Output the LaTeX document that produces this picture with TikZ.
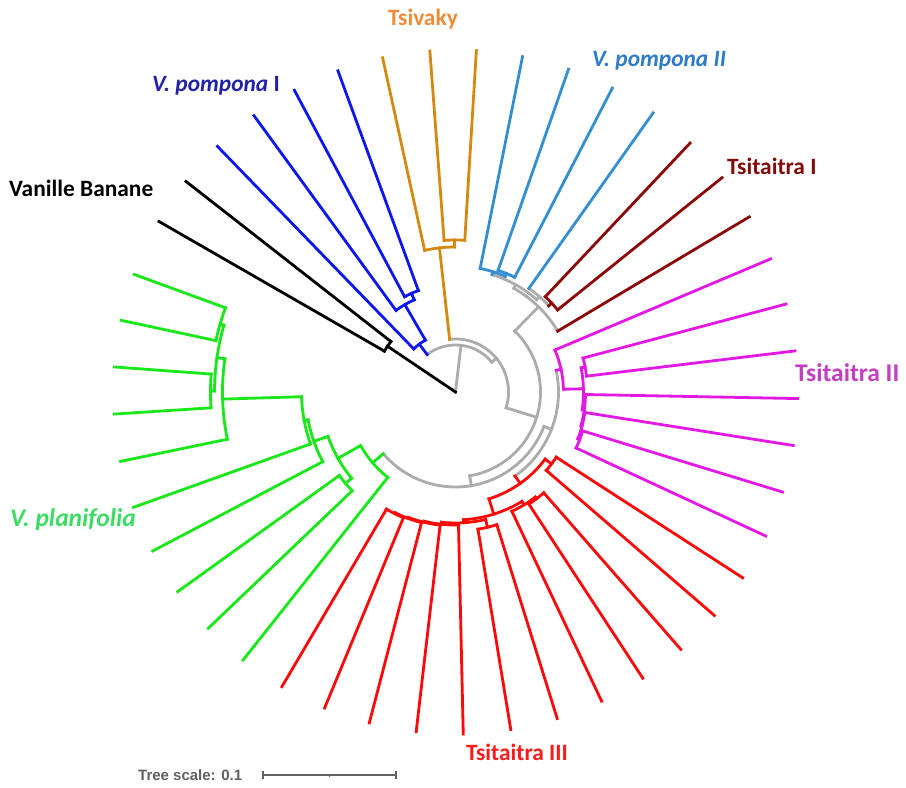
\documentclass[tikz,border=0pt]{standalone}
\usepackage{fontspec}
\setmainfont{Carlito}
\newfontfamily\scalefont{Liberation Sans}
\begin{document}
\begin{tikzpicture}[x=1pt,y=1pt,
  branch/.style={line width=2.8pt, line cap=rect, line join=miter},
  cladelabel/.style={font=\fontsize{23.4}{27}\selectfont\bfseries, inner sep=0pt},
  widelabel/.style={font=\fontsize{25.5}{29}\selectfont\bfseries, inner sep=0pt}]
\definecolor{tgray}{RGB}{172,172,172}
\definecolor{tblue}{RGB}{12,22,238}
\definecolor{torange}{RGB}{214,137,16}
\definecolor{tlblue}{RGB}{52,142,210}
\definecolor{tdred}{RGB}{140,8,8}
\definecolor{tmag}{RGB}{228,24,228}
\definecolor{tred}{RGB}{255,8,8}
\definecolor{tgreen}{RGB}{24,232,24}
\definecolor{lblue}{RGB}{34,34,168}
\definecolor{lorange}{RGB}{238,138,58}
\definecolor{llblue}{RGB}{46,123,200}
\definecolor{ldred}{RGB}{130,10,10}
\definecolor{lmag}{RGB}{196,62,196}
\definecolor{lred}{RGB}{255,26,26}
\definecolor{lgreen}{RGB}{60,220,100}
\definecolor{scalegray}{RGB}{96,96,96}
% page frame, tree root at the origin
\useasboundingbox (-455.5,-396) rectangle (450.5,392);
% clade: colour, parent radius, radius, angle, first child angle, last child angle
\newcommand\cl[6]{%
  \draw[branch,#1] (#4:#2) -- (#4:#3);
  \draw[branch,#1] (#5:#3) arc[start angle=#5, end angle=#6, radius=#3];}
% leaf branch: colour, parent radius, angle
\newcommand\lf[3]{\draw[branch,#1] (#3:#2) -- (#3:342);}

% backbone
\cl{tgray}{0}{47}{83.3}{39.5}{127.1}
\cl{tgray}{47}{53}{39.5}{-17.3}{96.35}
\cl{tgray}{53}{85}{-17.3}{-80.4}{45.75}
\cl{tgray}{85}{95}{-80.4}{-139.5}{-21.25}
\cl{tgray}{95}{103}{-21.25}{-54.7}{12.15}
\cl{tgray}{85}{119}{45.75}{30.8}{60.7}
\cl{tgray}{119}{123}{60.7}{48.7}{72.7}
\cl{tgray}{123}{127}{48.7}{42.75}{54.7}

% Vanille Banane
\cl{black}{0}{82}{146.05}{142}{150.1}
\lf{black}{82}{142} \lf{black}{82}{150.1}

% V. pompona I
\cl{tblue}{47}{60}{127.1}{120.1}{134.1} \lf{tblue}{60}{134.1}
\cl{tblue}{60}{101}{120.1}{114.1}{126.1} \lf{tblue}{101}{126.1}
\cl{tblue}{101}{108}{114.1}{110.1}{118.1}
\lf{tblue}{108}{110.1} \lf{tblue}{108}{118.1}

% Tsivaky
\cl{torange}{53}{145}{96.35}{90.4}{102.3} \lf{torange}{145}{102.3}
\cl{torange}{145}{152}{90.4}{86.5}{94.3}
\lf{torange}{152}{86.5} \lf{torange}{152}{94.3}

% V. pompona II
\cl{tlblue}{123}{126}{72.7}{66.7}{78.7} \lf{tlblue}{126}{78.7}
\cl{tlblue}{126}{129}{66.7}{62.7}{70.7}
\lf{tlblue}{129}{62.7} \lf{tlblue}{129}{70.7}
\lf{tlblue}{127}{54.7}

% Tsitaitra I
\cl{tdred}{127}{131}{42.75}{38.8}{46.7}
\lf{tdred}{131}{38.8} \lf{tdred}{131}{46.7}
\lf{tdred}{119}{30.8}

% Tsitaitra II
\cl{tmag}{103}{108}{12.15}{1.45}{22.9} \lf{tmag}{108}{22.9}
\cl{tmag}{108}{128}{1.45}{-8.05}{10.9}
\cl{tmag}{128}{132}{10.9}{6.9}{14.9}
\lf{tmag}{132}{6.9} \lf{tmag}{132}{14.9}
\cl{tmag}{128}{130}{-8.05}{-14.97}{-1.1} \lf{tmag}{130}{-1.1}
\cl{tmag}{130}{131}{-14.97}{-20.95}{-9} \lf{tmag}{131}{-9}
\cl{tmag}{131}{133}{-20.95}{-24.9}{-17}
\lf{tmag}{133}{-24.9} \lf{tmag}{133}{-17}

% Tsitaitra III
\cl{tred}{103}{112}{-54.7}{-72.6}{-36.85}
\cl{tred}{112}{120}{-36.85}{-40.8}{-32.9}
\lf{tred}{120}{-40.8} \lf{tred}{120}{-32.9}
\cl{tred}{112}{128}{-72.6}{-86.42}{-58.75}
\cl{tred}{128}{132}{-58.75}{-64.7}{-52.8} \lf{tred}{132}{-64.7}
\cl{tred}{132}{134}{-52.8}{-56.8}{-48.8}
\lf{tred}{134}{-56.8} \lf{tred}{134}{-48.8}
\cl{tred}{128}{131}{-86.42}{-96.14}{-76.7}
\cl{tred}{131}{139}{-76.7}{-80.7}{-72.7}
\lf{tred}{139}{-80.7} \lf{tred}{139}{-72.7}
\cl{tred}{131}{133}{-96.14}{-103.57}{-88.7} \lf{tred}{133}{-88.7}
\cl{tred}{133}{134}{-103.57}{-110.55}{-96.6} \lf{tred}{134}{-96.6}
\cl{tred}{134}{135}{-110.55}{-116.5}{-104.6} \lf{tred}{135}{-104.6}
\cl{tred}{135}{136}{-116.5}{-120.5}{-112.5}
\lf{tred}{136}{-120.5} \lf{tred}{136}{-112.5}

% V. planifolia
\cl{tgreen}{95}{109}{220.5}{209.45}{231.6} \lf{tgreen}{109}{231.6}
\cl{tgreen}{109}{135}{209.45}{199.2}{219.7}
\cl{tgreen}{135}{143}{219.7}{215.7}{223.7}
\lf{tgreen}{143}{215.7} \lf{tgreen}{143}{223.7}
\cl{tgreen}{135}{150}{199.2}{190.7}{207.7} \lf{tgreen}{150}{207.7}
\cl{tgreen}{150}{154}{190.7}{181.75}{199.7} \lf{tgreen}{154}{199.7}
\cl{tgreen}{154}{233}{181.75}{171.8}{191.7} \lf{tgreen}{233}{191.7}
\cl{tgreen}{233}{241}{171.8}{163.9}{179.75}
\cl{tgreen}{241}{245}{163.9}{159.9}{167.9}
\lf{tgreen}{245}{159.9} \lf{tgreen}{245}{167.9}
\cl{tgreen}{241}{245}{179.75}{175.8}{183.7}
\lf{tgreen}{245}{175.8} \lf{tgreen}{245}{183.7}

% clade labels
\node[cladelabel, text=lorange, anchor=base] (tsivaky) at (-32.5,366) {Tsivaky};
\node[cladelabel, text=lblue, anchor=base west] (pompI) at (-303.5,300) {\itshape V. pompona\/\upshape\ I};
\node[cladelabel, text=llblue, anchor=base west] (pompII) at (136.5,325) {\itshape V. pompona II};
\node[cladelabel, text=ldred, anchor=base west] (tsiI) at (271.5,217) {Tsitaitra I};
\node[cladelabel, text=black, anchor=base west] (banane) at (-446.5,196) {Vanille Banane};
\node[widelabel, text=lmag, anchor=base west] (tsiII) at (339.5,11) {Tsitaitra II};
\node[widelabel, text=lgreen, anchor=base west] (planif) at (-445.5,-134) {\itshape V. planifolia};
\node[cladelabel, text=lred, anchor=base] (tsiIII) at (61.5,-368) {Tsitaitra III};

% tree scale
\node[inner sep=0pt, anchor=base west, text=scalegray, font=\scalefont\fontsize{15}{18}\selectfont\bfseries] (scaletext) at (-317.5,-388) {Tree scale: 0.1};
\coordinate (sbL) at (-192.5,-383);
\coordinate (sbR) at (-59.5,-383);
\coordinate (sbM) at (-126,-383);
\draw[scalegray, line width=1.1pt] (sbL) -- (sbR);
\draw[scalegray, line width=1.1pt] ([yshift=-4]sbL) -- ([yshift=4]sbL);
\draw[scalegray, line width=1.1pt] ([yshift=-4]sbR) -- ([yshift=4]sbR);
\draw[scalegray, line width=1.1pt] (sbM) -- ([yshift=-2]sbM);
\end{tikzpicture}
\end{document}
